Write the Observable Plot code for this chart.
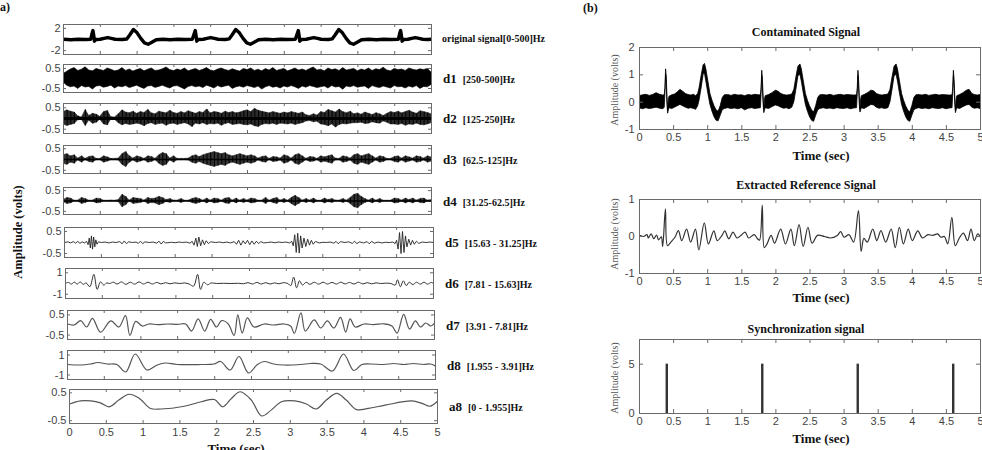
<!DOCTYPE html>
<html><head><meta charset="utf-8">
<script src="https://cdn.jsdelivr.net/npm/d3@7"></script>
<script src="https://cdn.jsdelivr.net/npm/@observablehq/plot@0.6"></script>
<style>
html,body{margin:0;padding:0;background:#fff;}
#root{position:relative;width:982px;height:450px;overflow:hidden;background:#fff;}
#root svg{position:absolute;overflow:visible;}
.t{position:absolute;font-family:"Liberation Serif","Times New Roman",serif;font-weight:bold;color:#111;white-space:nowrap;line-height:1;}
</style></head><body><div id="root"></div>
<script>
// ---------------- DATA ----------------
const timeTicks = [0,0.5,1,1.5,2,2.5,3,3.5,4,4.5,5];
const envStep = 0.05; // seconds between envelope samples

// Panel (a) : original signal [t, v]
const original = [[0,0.05],[0.1,-0.05],[0.2,0.05],[0.3,0],[0.37,0.05],[0.39,1.2],[0.40,1.6],[0.41,0.8],[0.42,-0.3],[0.44,0],[0.5,0.05],[0.55,0.2],[0.6,0.35],[0.65,0.2],[0.7,0.05],[0.8,0],[0.86,0.1],[0.9,0.8],[0.95,1.8],[1.0,1.2],[1.05,0.2],[1.1,-0.6],[1.15,-0.85],[1.2,-0.5],[1.26,-0.05],[1.35,0.05],[1.45,-0.05],[1.55,0.05],[1.65,0],[1.75,0.05],[1.78,1.2],[1.79,1.6],[1.80,0.8],[1.81,-0.3],[1.83,0],[1.9,0.05],[1.95,0.2],[2.0,0.35],[2.05,0.2],[2.1,0.05],[2.2,0],[2.25,0.1],[2.29,0.8],[2.34,1.8],[2.39,1.2],[2.44,0.2],[2.49,-0.6],[2.54,-0.85],[2.59,-0.5],[2.65,-0.05],[2.75,0.05],[2.85,-0.05],[2.95,0.05],[3.05,0],[3.15,0.05],[3.18,1.2],[3.19,1.6],[3.20,0.8],[3.21,-0.3],[3.23,0],[3.3,0.05],[3.35,0.2],[3.4,0.35],[3.45,0.2],[3.5,0.05],[3.6,0],[3.65,0.1],[3.69,0.8],[3.74,1.8],[3.79,1.2],[3.84,0.2],[3.89,-0.6],[3.94,-0.85],[3.99,-0.5],[4.05,-0.05],[4.15,0.05],[4.25,-0.05],[4.35,0.05],[4.45,0],[4.55,0.05],[4.57,1.2],[4.58,1.6],[4.59,0.8],[4.60,-0.3],[4.62,0],[4.68,0.05],[4.73,0.2],[4.78,0.35],[4.83,0.2],[4.88,0.05],[4.95,0],[5.0,0.05]];

// d1, d2 : upper / lower envelopes sampled every envStep
const d1Hi = [.22,.34,.45,.52,.38,.44,.56,.40,.36,.48, .42,.38,.50,.44,.36,.40,.52,.38,.45,.35, .42,.48,.36,.44,.50,.38,.40,.46,.55,.42, .37,.45,.40,.50,.36,.42,.48,.38,.44,.52, .40,.36,.45,.50,.42,.38,.46,.40,.35,.48, .42,.50,.38,.44,.36,.47,.40,.52,.38,.43, .48,.36,.42,.50,.40,.45,.38,.47,.55,.40, .44,.36,.50,.42,.46,.38,.52,.40,.44,.48, .36,.45,.40,.50,.38,.46,.42,.54,.40,.36, .48,.42,.45,.38,.50,.44,.40,.46,.42,.48, .30];
const d1Lo = [-.20,-.36,-.44,-.40,-.52,-.38,-.45,-.42,-.55,-.40, -.38,-.46,-.42,-.36,-.50,-.40,-.44,-.38,-.48,-.42, -.36,-.45,-.52,-.40,-.38,-.47,-.42,-.36,-.44,-.50, -.40,-.38,-.46,-.55,-.42,-.38,-.44,-.40,-.48,-.36, -.42,-.50,-.38,-.45,-.40,-.36,-.52,-.44,-.40,-.46, -.38,-.42,-.48,-.40,-.55,-.44,-.38,-.46,-.42,-.50, -.40,-.45,-.38,-.44,-.52,-.40,-.46,-.38,-.42,-.48, -.44,-.40,-.50,-.38,-.45,-.42,-.56,-.40,-.44,-.38, -.46,-.42,-.40,-.52,-.38,-.44,-.48,-.40,-.45,-.50, -.38,-.44,-.42,-.50,-.40,-.46,-.38,-.52,-.42,-.44, -.32];
const d2Hi = [.30,.38,.32,.28,.10,.05,.40,.12,.22,.18, .08,.30,.35,.06,.05,.20,.38,.28,.25,.32, .22,.30,.26,.40,.24,.20,.32,.28,.24,.36, .26,.22,.30,.24,.34,.28,.22,.30,.26,.42, .24,.30,.28,.22,.32,.26,.30,.24,.28,.34, .38,.30,.45,.36,.32,.28,.24,.30,.26,.22, .28,.24,.30,.26,.22,.28,.15,.12,.20,.14, .30,.26,.40,.34,.28,.42,.30,.25,.32,.20, .24,.18,.28,.22,.16,.25,.20,.12,.22,.30, .26,.32,.24,.30,.36,.28,.22,.34,.30,.26, .20];
const d2Lo = [-.28,-.35,-.30,-.26,-.08,-.06,-.35,-.10,-.25,-.20, -.06,-.28,-.32,-.05,-.06,-.22,-.32,-.26,-.30,-.28, -.24,-.28,-.36,-.26,-.22,-.30,-.26,-.24,-.34,-.26, -.24,-.30,-.26,-.22,-.28,-.40,-.24,-.28,-.22,-.30, -.26,-.28,-.24,-.34,-.26,-.22,-.30,-.28,-.26,-.30, -.32,-.28,-.36,-.40,-.30,-.26,-.28,-.24,-.30,-.24, -.26,-.28,-.24,-.30,-.26,-.22,-.14,-.12,-.18,-.15, -.28,-.30,-.36,-.28,-.42,-.30,-.26,-.28,-.24,-.22, -.22,-.20,-.26,-.24,-.18,-.22,-.24,-.14,-.20,-.28, -.28,-.30,-.26,-.34,-.28,-.30,-.24,-.30,-.32,-.28, -.22];
// d3, d4 : burst amplitude envelopes sampled every envStep
const d3Amp = [.2,.25,.15,.2,.05,.15,.03,.12,.15,.03, .03,.15,.1,.03,.03,.05,.25,.35,.15,.05, .15,.1,.03,.15,.12,.03,.2,.3,.25,.05, .15,.03,.03,.03,.05,.15,.2,.12,.2,.25, .3,.35,.3,.25,.3,.2,.15,.2,.25,.2, .15,.2,.15,.05,.12,.15,.03,.12,.1,.05, .2,.15,.05,.2,.25,.15,.03,.12,.1,.03, .15,.1,.15,.2,.05,.03,.15,.12,.05,.2, .25,.15,.2,.25,.15,.05,.15,.12,.03,.03, .12,.15,.05,.15,.1,.05,.15,.12,.05,.15, .1];
const d4Amp = [.05,.15,.12,.02,.03,.15,.1,.02,.03,.12, .1,.02,.02,.03,.02,.05,.3,.2,.03,.15, .12,.1,.03,.15,.1,.12,.2,.15,.05,.1, .03,.02,.1,.02,.02,.1,.15,.1,.02,.12, .03,.12,.1,.02,.12,.15,.03,.12,.02,.1, .03,.12,.1,.02,.03,.15,.02,.1,.15,.03, .1,.02,.15,.25,.15,.03,.1,.03,.12,.02, .02,.12,.05,.1,.03,.02,.1,.03,.15,.3, .35,.2,.1,.03,.12,.02,.1,.02,.02,.02, .12,.1,.03,.12,.05,.12,.03,.1,.12,.03, .05];

const d5 = [[0,0],[0.05,0.03],[0.08,-0.02],[0.12,0.04],[0.15,-0.03],[0.18,0.05],[0.21,-0.04],[0.24,0.03],[0.27,-0.02],[0.3,0.05],[0.32,-0.1],[0.335,0.2],[0.35,-0.25],[0.365,0.3],[0.38,-0.3],[0.395,0.25],[0.41,-0.2],[0.425,0.12],[0.44,-0.08],[0.46,0.03],[0.5,0],[0.55,0.02],[0.6,-0.02],[0.65,0.02],[0.7,0],[0.75,0.04],[0.78,-0.06],[0.81,0.07],[0.84,-0.05],[0.87,0.03],[0.92,0],[0.97,0.02],[1.0,-0.04],[1.03,0.06],[1.06,-0.05],[1.09,0.03],[1.15,0],[1.2,0.02],[1.25,-0.03],[1.28,0.06],[1.31,-0.07],[1.34,0.05],[1.37,-0.02],[1.45,0.01],[1.5,-0.01],[1.55,0.02],[1.6,0],[1.65,0.02],[1.7,-0.03],[1.73,0.05],[1.755,-0.12],[1.78,0.2],[1.8,-0.18],[1.82,0.25],[1.845,-0.15],[1.87,0.12],[1.895,-0.1],[1.92,0.08],[1.95,-0.05],[1.98,0.03],[2.05,0],[2.1,0.02],[2.15,-0.01],[2.2,0.02],[2.25,-0.02],[2.3,0.04],[2.33,-0.08],[2.36,0.1],[2.39,-0.12],[2.42,0.08],[2.45,-0.06],[2.48,0.1],[2.51,-0.1],[2.54,0.07],[2.57,-0.08],[2.6,0.06],[2.63,-0.05],[2.66,0.04],[2.7,-0.02],[2.75,0],[2.8,0.02],[2.85,-0.01],[2.9,0.02],[2.95,0],[3.0,0.02],[3.05,-0.02],[3.08,0.05],[3.1,-0.15],[3.12,0.35],[3.14,-0.45],[3.16,0.42],[3.18,-0.48],[3.2,0.3],[3.22,-0.25],[3.245,0.2],[3.27,-0.18],[3.295,0.15],[3.32,-0.12],[3.345,0.1],[3.37,-0.08],[3.4,0.05],[3.45,-0.02],[3.5,0.01],[3.55,0],[3.6,0.02],[3.65,-0.03],[3.68,0.05],[3.71,-0.06],[3.74,0.04],[3.8,0],[3.85,0.03],[3.9,-0.04],[3.93,0.06],[3.96,-0.05],[4.0,0.03],[4.05,-0.02],[4.1,0.04],[4.13,-0.06],[4.16,0.05],[4.2,-0.03],[4.25,0.02],[4.3,-0.02],[4.35,0.01],[4.4,0],[4.45,0.02],[4.48,-0.05],[4.5,0.1],[4.52,-0.3],[4.54,0.45],[4.56,-0.5],[4.58,0.5],[4.6,-0.45],[4.62,0.3],[4.64,-0.2],[4.665,0.15],[4.69,-0.12],[4.715,0.1],[4.74,-0.08],[4.77,0.06],[4.8,-0.04],[4.85,0.02],[4.9,0],[4.95,0.02],[5.0,0]];

const d6 = [[0,0.02],[0.04,0.1],[0.08,-0.05],[0.12,0.12],[0.16,-0.05],[0.2,0.15],[0.24,-0.08],[0.28,0.05],[0.33,-0.3],[0.385,0.85],[0.43,-0.55],[0.475,0.15],[0.52,-0.15],[0.56,0.05],[0.6,0],[0.65,0.12],[0.7,-0.05],[0.76,0.15],[0.82,-0.08],[0.88,0.12],[0.94,-0.06],[1.0,0.15],[1.06,-0.05],[1.12,0.12],[1.18,-0.05],[1.24,0.1],[1.3,-0.04],[1.36,0.08],[1.42,-0.03],[1.48,0.06],[1.55,0],[1.62,0.05],[1.68,-0.05],[1.74,-0.25],[1.795,0.85],[1.835,-0.55],[1.88,0.12],[1.93,-0.12],[1.98,0.05],[2.05,0],[2.15,0.02],[2.25,0],[2.35,0.02],[2.42,-0.02],[2.48,0.08],[2.54,-0.05],[2.6,0.1],[2.66,-0.05],[2.72,0.08],[2.78,-0.05],[2.84,0.06],[2.9,-0.03],[2.96,0.08],[3.02,0],[3.06,-0.2],[3.1,0.6],[3.14,-0.4],[3.18,0.25],[3.22,-0.15],[3.27,0.12],[3.32,-0.08],[3.38,0.12],[3.44,-0.06],[3.5,0.12],[3.56,-0.05],[3.62,0.1],[3.68,-0.05],[3.74,0.12],[3.8,-0.04],[3.86,0.1],[3.92,-0.05],[3.98,0.12],[4.04,-0.04],[4.1,0.08],[4.16,-0.03],[4.22,0.06],[4.28,0],[4.35,0.03],[4.42,0],[4.48,-0.15],[4.51,0.35],[4.55,-0.3],[4.59,0.25],[4.63,-0.2],[4.67,0.12],[4.72,-0.1],[4.77,0.12],[4.82,-0.06],[4.87,0.12],[4.92,-0.06],[4.97,0.1],[5,0]];

const d7 = [[0,0.05],[0.09,0],[0.18,0.22],[0.26,-0.1],[0.34,0.33],[0.45,-0.36],[0.59,0.2],[0.70,-0.1],[0.79,0.47],[0.85,-0.52],[0.93,0.18],[1.02,-0.05],[1.11,0.05],[1.23,0.02],[1.36,0.05],[1.5,0.03],[1.61,0.05],[1.69,-0.3],[1.78,0.3],[1.87,-0.3],[1.95,0.28],[2.03,-0.1],[2.10,0.22],[2.19,0.05],[2.27,-0.52],[2.32,0.5],[2.38,-0.4],[2.45,0.35],[2.54,-0.1],[2.68,0.05],[2.81,0],[2.95,0.05],[3.04,-0.05],[3.09,-0.42],[3.18,0.6],[3.24,-0.3],[3.36,0.25],[3.45,-0.15],[3.54,0.2],[3.63,-0.15],[3.72,0.38],[3.79,-0.35],[3.85,0.3],[3.92,-0.1],[4.04,0.05],[4.17,0.02],[4.31,0.06],[4.42,-0.05],[4.49,-0.4],[4.58,0.53],[4.66,-0.2],[4.74,0.2],[4.81,-0.1],[4.88,0.1],[4.95,-0.05],[5.0,0.1]];

const d8 = [[0,0.05],[0.18,0],[0.31,0.1],[0.41,0.25],[0.54,0.1],[0.67,0.05],[0.79,-0.7],[0.92,1.1],[1.08,-0.5],[1.22,0],[1.33,0.2],[1.49,0.05],[1.81,0.05],[1.99,0.1],[2.08,0.35],[2.21,-0.5],[2.33,0.85],[2.46,-0.8],[2.58,0.05],[2.67,0.35],[2.8,0.1],[2.94,0],[3.17,0.05],[3.3,0.15],[3.44,0.1],[3.6,-0.6],[3.75,1.1],[3.89,-0.55],[4.0,0.05],[4.12,0.1],[4.3,0.05],[4.43,0.15],[4.57,0.05],[4.7,0.15],[4.84,0.05],[4.93,0.1],[5,-0.1]];

const a8 = [[0,0.1],[0.15,0.21],[0.29,0.21],[0.42,0.14],[0.54,0.0],[0.67,0.24],[0.81,0.45],[0.95,0.3],[1.1,-0.06],[1.24,-0.08],[1.56,0.02],[1.79,0.18],[1.97,0.26],[2.08,0.0],[2.2,0.3],[2.32,0.54],[2.47,0.24],[2.61,-0.33],[2.74,-0.12],[2.88,0.18],[3.06,0.21],[3.22,0.1],[3.35,-0.08],[3.49,0.24],[3.63,0.48],[3.76,0.24],[3.9,-0.1],[4.06,-0.06],[4.29,0.06],[4.65,0.21],[4.79,0.12],[4.9,0.02],[5.0,0.2]];

const rowNames = ["original signal[0-500]Hz","d1","d2","d3","d4","d5","d6","d7","d8","a8"];
const rowBands = ["","[250-500]Hz","[125-250]Hz","[62.5-125]Hz","[31.25-62.5]Hz","[15.63 - 31.25]Hz","[7.81 - 15.63]Hz","[3.91 - 7.81]Hz","[1.955 - 3.91]Hz","[0 - 1.955]Hz"];
const rowYTicks = [[2,-2],[0.5,-0.5],[0.5,-0.5],[0.5,-0.5],[0.5,-0.5],[0.5,-0.5],[1,-1],[0.5,-0.5],[1,-1],[0.5,-0.5]];
const rowYDomain = [[-2.7,2.7],[-0.7,0.7],[-0.7,0.7],[-0.65,0.65],[-0.65,0.65],[-0.68,0.68],[-1.4,1.4],[-0.72,0.72],[-1.45,1.45],[-0.6,0.62]];

// Panel (b)
const contaminated = [[0.00,-0.22,0.22],[0.05,-0.26,0.25],[0.10,-0.22,0.27],[0.15,-0.25,0.23],[0.20,-0.23,0.26],[0.25,-0.2,0.33],[0.30,-0.24,0.27],[0.35,-0.26,0.24],[0.37,-0.2,0.25],
[0.38,0.3,0.5],[0.39,1.0,1.2],[0.40,0.6,0.9],[0.41,-0.1,0.2],[0.42,-0.42,-0.3],[0.43,-0.3,0.1],[0.44,-0.22,0.2],
[0.48,-0.25,0.25],[0.52,-0.2,0.28],[0.56,-0.15,0.35],[0.60,-0.1,0.45],[0.64,-0.15,0.38],[0.68,-0.2,0.3],[0.72,-0.24,0.26],[0.76,-0.22,0.24],[0.80,-0.25,0.27],[0.83,-0.28,0.22],[0.86,-0.15,0.3],
[0.88,0.05,0.5],[0.91,0.5,0.95],[0.94,1.0,1.35],[0.96,1.05,1.4],[0.98,0.75,1.2],[1.01,0.3,0.75],[1.04,-0.1,0.3],[1.07,-0.35,0.05],[1.10,-0.55,-0.15],[1.13,-0.68,-0.3],[1.16,-0.7,-0.35],[1.19,-0.5,-0.15],[1.22,-0.3,0.15],[1.25,-0.25,0.25],
[1.30,-0.22,0.26],[1.35,-0.25,0.23],[1.40,-0.23,0.27],[1.45,-0.26,0.24],[1.50,-0.22,0.25],[1.55,-0.3,0.22],[1.60,-0.24,0.26],[1.65,-0.22,0.24],[1.70,-0.25,0.27],[1.75,-0.23,0.25],[1.78,-0.22,0.25],
[1.79,0.3,0.5],[1.80,0.95,1.15],[1.81,0.5,0.8],[1.82,-0.1,0.2],[1.83,-0.4,-0.28],[1.84,-0.3,0.1],[1.85,-0.22,0.22],
[1.90,-0.25,0.26],[1.95,-0.18,0.33],[2.00,-0.12,0.42],[2.04,-0.15,0.38],[2.08,-0.2,0.3],[2.12,-0.24,0.26],[2.16,-0.22,0.24],[2.20,-0.26,0.25],[2.24,-0.2,0.28],
[2.27,0.0,0.45],[2.30,0.45,0.9],[2.33,0.95,1.3],[2.36,1.0,1.38],[2.38,0.75,1.2],[2.41,0.3,0.75],[2.44,-0.1,0.3],[2.47,-0.35,0.05],[2.50,-0.55,-0.15],[2.53,-0.68,-0.3],[2.56,-0.72,-0.38],[2.59,-0.5,-0.15],[2.62,-0.3,0.15],[2.65,-0.25,0.25],
[2.70,-0.22,0.26],[2.75,-0.25,0.24],[2.80,-0.23,0.27],[2.85,-0.26,0.23],[2.90,-0.22,0.25],[2.95,-0.24,0.27],[3.00,-0.25,0.24],[3.05,-0.22,0.26],[3.10,-0.26,0.25],[3.15,-0.23,0.24],[3.19,-0.22,0.25],
[3.20,0.3,0.5],[3.21,0.95,1.15],[3.22,0.5,0.8],[3.23,-0.1,0.2],[3.24,-0.38,-0.26],[3.25,-0.3,0.1],[3.26,-0.22,0.22],
[3.30,-0.25,0.26],[3.35,-0.18,0.33],[3.40,-0.1,0.42],[3.44,-0.12,0.4],[3.48,-0.2,0.3],[3.52,-0.24,0.26],[3.56,-0.22,0.24],[3.60,-0.25,0.26],[3.65,-0.22,0.28],
[3.68,0.0,0.45],[3.71,0.45,0.9],[3.74,0.95,1.3],[3.77,1.0,1.38],[3.79,0.75,1.2],[3.82,0.3,0.75],[3.85,-0.1,0.3],[3.88,-0.35,0.05],[3.91,-0.55,-0.15],[3.94,-0.68,-0.3],[3.97,-0.72,-0.38],[4.00,-0.5,-0.15],[4.03,-0.3,0.15],[4.06,-0.25,0.25],
[4.10,-0.22,0.26],[4.15,-0.25,0.24],[4.20,-0.23,0.27],[4.25,-0.26,0.23],[4.30,-0.22,0.25],[4.35,-0.24,0.27],[4.40,-0.25,0.24],[4.45,-0.22,0.26],[4.50,-0.26,0.25],[4.55,-0.23,0.24],[4.59,-0.22,0.25],
[4.60,0.3,0.5],[4.61,0.95,1.15],[4.62,0.5,0.8],[4.63,-0.1,0.2],[4.64,-0.4,-0.28],[4.65,-0.3,0.1],[4.66,-0.22,0.22],
[4.70,-0.25,0.26],[4.75,-0.18,0.33],[4.80,-0.12,0.42],[4.84,-0.1,0.45],[4.88,-0.2,0.3],[4.92,-0.24,0.26],[4.96,-0.22,0.24],[5.00,-0.25,0.26]];

const extracted = [[0,0.03],[0.06,0],[0.11,0.05],[0.13,-0.04],[0.17,0.07],[0.21,-0.06],[0.25,0.04],[0.28,-0.09],[0.32,-0.01],[0.34,-0.27],[0.38,0.75],[0.41,-0.25],[0.46,-0.15],[0.52,-0.02],[0.57,0.16],[0.62,-0.11],[0.69,0.2],[0.75,-0.15],[0.82,0.2],[0.87,-0.36],[0.95,0.37],[1.01,-0.2],[1.09,0.15],[1.14,-0.11],[1.21,0.03],[1.25,0.15],[1.31,-0.06],[1.37,0.12],[1.43,-0.04],[1.50,0.05],[1.55,0.12],[1.60,-0.04],[1.68,0.05],[1.73,-0.06],[1.76,-0.1],[1.80,0.85],[1.83,-0.3],[1.87,-0.2],[1.93,0.03],[1.98,-0.18],[2.07,0.2],[2.14,-0.2],[2.22,0.2],[2.27,-0.25],[2.34,0.32],[2.40,-0.27],[2.47,0.25],[2.53,-0.18],[2.61,0.03],[2.71,0],[2.80,-0.04],[2.90,0.03],[2.95,0.13],[3.00,-0.02],[3.07,0.05],[3.14,-0.15],[3.21,0.7],[3.25,-0.4],[3.29,-0.05],[3.34,-0.15],[3.42,0.2],[3.48,-0.11],[3.54,0.16],[3.61,-0.15],[3.69,0.2],[3.75,-0.3],[3.81,0.25],[3.87,-0.2],[3.94,0.2],[4.00,-0.11],[4.08,0.15],[4.15,-0.04],[4.23,0.05],[4.30,0.03],[4.37,0.07],[4.42,-0.02],[4.47,0],[4.52,-0.2],[4.58,0.52],[4.63,-0.25],[4.69,-0.04],[4.75,0.09],[4.81,-0.11],[4.86,0.2],[4.91,-0.11],[4.96,0.07],[5.0,-0.02]];

const syncTimes = [0.4, 1.8, 3.2, 4.6];
const syncLevel = 5;

const titlesB = ["Contaminated Signal","Extracted Reference Signal","Synchronization signal"];

// ---------------- DRAWING ----------------
const root = document.getElementById("root");
const FRAME = "#6a6a6a";

function envRows(hi, lo){ return hi.map((v,i)=>({t: i*envStep, hi: v, lo: lo[i]})); }
function ampRows(amp){ return amp.map((a,i)=>({t: i*envStep, hi: a, lo: -a})); }

function makePanel(o){
  const ml = 40, mr = 8, mt = 6, mb = o.xLabels ? 26 : 6;
  const w = o.right - o.left, h = o.bottom - o.top, tk = o.tick || 3;
  const marks = [
    ...o.marks,
    Plot.frame({stroke: FRAME}),
    Plot.tickX(timeTicks, {x: d=>d, insetTop: h - tk, stroke: FRAME}),
    Plot.tickX(timeTicks, {x: d=>d, insetBottom: h - tk, stroke: FRAME}),
    Plot.tickY(o.yTicks, {y: d=>d, insetRight: w - tk, stroke: FRAME}),
    Plot.tickY(o.yTicks, {y: d=>d, insetLeft: w - tk, stroke: FRAME}),
    Plot.axisY({ticks: o.yTicks, tickSize: 0, tickPadding: o.yPad || 4, tickFormat: d => String(d), label: null})
  ];
  if (o.xLabels) marks.push(Plot.axisX({ticks: timeTicks, tickSize: 0, tickPadding: o.xPad || 5, tickFormat: d => String(d), label: null}));
  const svg = Plot.plot({
    width: w + ml + mr, height: h + mt + mb,
    marginLeft: ml, marginRight: mr, marginTop: mt, marginBottom: mb,
    x: {domain: [0,5], axis: null}, y: {domain: o.yDomain, axis: null},
    style: {fontFamily: '"Liberation Sans", Arial, sans-serif', fontSize: "11px", color: "#444", background: "none", overflow: "visible"},
    marks
  });
  svg.style.left = (o.left - ml) + "px";
  svg.style.top = (o.top - mt) + "px";
  root.appendChild(svg);
}

function text(str, x, y, css, transform){
  const d = document.createElement("div");
  d.className = "t";
  d.textContent = str;
  d.style.cssText += css;
  d.style.left = x + "px"; d.style.top = y + "px";
  d.style.transform = transform || "translate(-50%,-50%)";
  root.appendChild(d);
  return d;
}

// Panel (a) geometry
const rTop   = [24,64,103,145,187,227,268,310,350,389];
const rBot   = [54,92,133,173,214,257,298,339,379,423];
const rLeft  = [63,63,63,63,63,64,65,67,67,69];
const rRight = [431,431,431,431,431,433,433,434,435,437];

const band = (rows, fill, sw) => Plot.areaY(rows, {x: "t", y1: "lo", y2: "hi", fill, stroke: fill, strokeWidth: sw, clip: true});
const hair = (rows, w, c) => Plot.ruleX(rows, {x: "t", y1: "lo", y2: "hi", stroke: c, strokeWidth: w, clip: true});

const rowMarks = [
  [Plot.line(original, {x: d=>d[0], y: d=>d[1], stroke: "#000", strokeWidth: 3.4, clip: true})],
  [band(envRows(d1Hi,d1Lo), "#000", 0.6)],
  [band(envRows(d2Hi,d2Lo), "#2a2a2a", 0.5), hair(envRows(d2Hi,d2Lo), 1, "#000"), Plot.ruleY([0], {stroke: "#000", strokeWidth: 3})],
  [band(ampRows(d3Amp), "#333", 0.4), hair(ampRows(d3Amp), 1, "#000"), Plot.ruleY([0], {stroke: "#000", strokeWidth: 1.3})],
  [band(ampRows(d4Amp), "#333", 0.4), hair(ampRows(d4Amp), 1, "#000"), Plot.ruleY([0], {stroke: "#000", strokeWidth: 1.3})],
  [Plot.line(d5, {x: d=>d[0], y: d=>d[1], stroke: "#222", strokeWidth: 0.9, clip: true})],
  [Plot.line(d6, {x: d=>d[0], y: d=>d[1], stroke: "#333", strokeWidth: 1, curve: "catmull-rom", clip: true})],
  [Plot.line(d7, {x: d=>d[0], y: d=>d[1], stroke: "#555", strokeWidth: 1.2, curve: "catmull-rom", clip: true})],
  [Plot.line(d8, {x: d=>d[0], y: d=>d[1], stroke: "#555", strokeWidth: 1.2, curve: "catmull-rom", clip: true})],
  [Plot.line(a8, {x: d=>d[0], y: d=>d[1], stroke: "#555", strokeWidth: 1.2, curve: "catmull-rom", clip: true})]
];

for (let i = 0; i < 10; i++) {
  makePanel({left: rLeft[i], right: rRight[i], top: rTop[i], bottom: rBot[i],
    yDomain: rowYDomain[i], yTicks: rowYTicks[i], marks: rowMarks[i], xLabels: i === 9, yPad: 3, xPad: 5});
  const cy = (rTop[i] + rBot[i]) / 2;
  if (i === 0) {
    text(rowNames[0], rRight[i] + 11, cy, "font-size:10px;", "translate(0,-50%)");
  } else {
    const d = text("", rRight[i] + 12, cy, "", "translate(0,-50%)");
    const a = document.createElement("span"); a.textContent = rowNames[i]; a.style.fontSize = "13px";
    const b = document.createElement("span"); b.textContent = rowBands[i]; b.style.fontSize = "10px"; b.style.marginLeft = "6px";
    d.appendChild(a); d.appendChild(b);
  }
}
text("Amplitude (volts)", 18, 232, "font-size:12.5px;", "translate(-50%,-50%) rotate(-90deg)");
text("Time (sec)", 236, 448, "font-size:13px;");
text("a)", 0, 1, "font-size:12px;", "none");

// Panel (b)
const bL = 639, bR = 980;
makePanel({left: bL, right: bR, top: 47, bottom: 129, yDomain: [-1,2], yTicks: [-1,0,1,2], tick: 4, xLabels: true, yPad: 5, xPad: 4,
  marks: [Plot.areaY(contaminated, {x: d=>d[0], y1: d=>d[1], y2: d=>d[2], fill: "#000", stroke: "#000", strokeWidth: 0.8, clip: true})]});
makePanel({left: bL, right: bR, top: 199, bottom: 273, yDomain: [-1,1], yTicks: [-1,0,1], tick: 4, xLabels: true, yPad: 5, xPad: 4,
  marks: [Plot.line(extracted, {x: d=>d[0], y: d=>d[1], stroke: "#333", strokeWidth: 1.2, curve: "catmull-rom", clip: true})]});
makePanel({left: bL, right: bR, top: 339, bottom: 413, yDomain: [0,7.5], yTicks: [0,5], tick: 4, xLabels: true, yPad: 5, xPad: 4,
  marks: [Plot.ruleX(syncTimes, {x: d=>d, y1: 0, y2: syncLevel, stroke: "#333", strokeWidth: 2.4})]});

const titleY = [32, 185, 329], timeY = [155, 297, 438], ampY = [90, 234, 378];
const cxB = 806;
for (let k = 0; k < 3; k++) {
  text(titlesB[k], cxB, titleY[k], "font-size:12px;");
  text("Time (sec)", cxB + 15, timeY[k], "font-size:13px;");
  text("Amplitude (volts)", 615, ampY[k], "font-size:10px;font-weight:normal;color:#555;", "translate(-50%,-50%) rotate(-90deg)");
}
text("(b)", 583, 2, "font-size:12px;", "none");
</script>
</body></html>
